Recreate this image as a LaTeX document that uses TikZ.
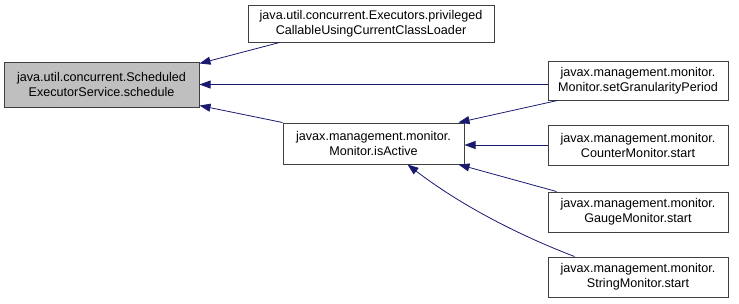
\documentclass[tikz,border=0pt]{standalone}
\usepackage{fontspec}
\setmainfont{Liberation Sans}
\usetikzlibrary{arrows.meta,calc}
\definecolor{edgeblue}{HTML}{191970}
\definecolor{rootgray}{HTML}{BFBFBF}
\tikzset{
  fn/.style={draw=black!75, line width=1pt, fill=white, align=center, inner sep=0pt,
    font=\fontsize{12.6}{15}\selectfont},
  root/.style={fn, fill=rootgray},
  call/.style={draw=edgeblue, line width=0.8pt,
    -{Triangle[length=11pt,width=8pt]}},
}
\begin{document}
\begin{tikzpicture}[x=1pt,y=-1pt]
  \useasboundingbox (0,0) rectangle (739,303);
  % functions
  \node[root, minimum width=195pt, minimum height=45pt] (sched) at (101.5,84.5)
    {java.util.concurrent.Scheduled\\ExecutorService.schedule};
  \node[fn, minimum width=246pt, minimum height=37pt] (priv) at (371,23.5)
    {java.util.concurrent.Executors.privileged\\CallableUsingCurrentClassLoader};
  \node[fn, minimum width=181pt, minimum height=41pt] (active) at (373.5,143.5)
    {javax.management.monitor.\\Monitor.isActive};
  \node[fn, minimum width=180pt, minimum height=39pt] (gran) at (638,80.5)
    {javax.management.monitor.\\Monitor.setGranularityPeriod};
  \node[fn, minimum width=180pt, minimum height=40pt] (counter) at (638,145)
    {javax.management.monitor.\\CounterMonitor.start};
  \node[fn, minimum width=180pt, minimum height=40pt] (gauge) at (638,212)
    {javax.management.monitor.\\GaugeMonitor.start};
  \node[fn, minimum width=180pt, minimum height=40pt] (string) at (638,277)
    {javax.management.monitor.\\StringMonitor.start};
  % calls
  \draw[call] ($(priv.south west)+(32,0)$) -- ($(sched.north east)+(0,2)$);
  \draw[call] (gran.west |- sched.east) -- (sched.east);
  \draw[call] (active.north west) -- ($(sched.south east)+(0,-2)$);
  \draw[call] ($(gran.south west)+(10,0)$) -- ($(active.north east)+(-6,0)$);
  \draw[call] (counter.west) -- (counter.west -| active.east);
  \draw[call] ($(gauge.north west)+(9,0)$) -- ($(active.south east)+(-6,0)$);
  \draw[call] ($(string.north west)+(27,0)$)
    .. controls ($(string.north west)+(-33,-23)$) and ($(active.south)+(85,39)$)
    .. ($(active.south)+(34,0)$);
\end{tikzpicture}
\end{document}
